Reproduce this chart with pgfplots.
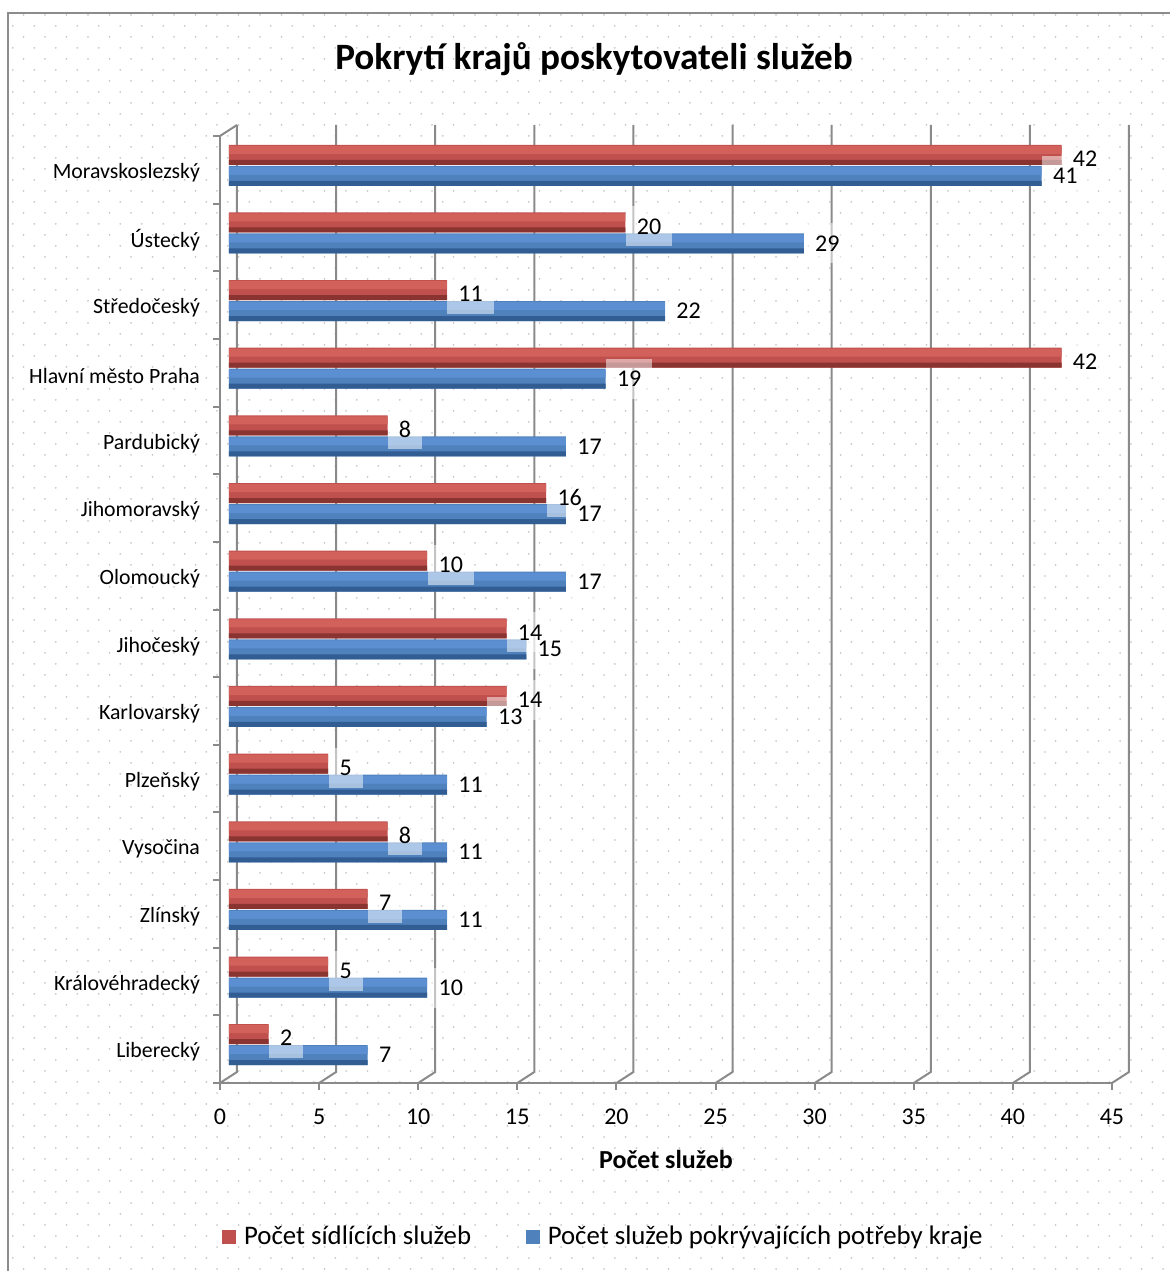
\documentclass[border=0pt]{standalone}
\usepackage{pgfplots}
\pgfplotsset{compat=1.18}
\usepackage{fontspec}
\setmainfont{Carlito}
\usetikzlibrary{patterns}
\definecolor{redc}{HTML}{C0504D}
\definecolor{redl}{HTML}{D2605B}
\definecolor{redd}{HTML}{8A3432}
\definecolor{bluec}{HTML}{4F81BD}
\definecolor{bluel}{HTML}{5B8FD1}
\definecolor{blued}{HTML}{325D92}
\definecolor{gridc}{HTML}{8A8A8A}
\definecolor{dotc}{HTML}{C8C8C8}
\definecolor{framec}{HTML}{8C8C8C}
\pgfdeclarepatternformonly{chartdots}{\pgfpoint{-1pt}{-1pt}}{\pgfpoint{12pt}{12pt}}{\pgfpoint{10.75pt}{11pt}}{%
  \pgfpathcircle{\pgfpoint{1pt}{1pt}}{0.5pt}%
  \pgfpathcircle{\pgfpoint{6.375pt}{6.5pt}}{0.5pt}%
  \pgfusepath{fill}}
\pgfplotstableread{
y  red blue
0  2   7
1  5   10
2  7   11
3  8   11
4  5   11
5  14  13
6  14  15
7  10  17
8  16  17
9  8   17
10 42  19
11 11  22
12 20  29
13 42  41
}\datatable
\tikzset{
  lblbox/.style={anchor=west, fill=white, fill opacity=0.5, text opacity=0,
    minimum height=20pt, inner xsep=5.5pt, inner ysep=0pt,
    font=\fontsize{12}{14}\selectfont},
  lbltext/.style={anchor=west, fill=none, text opacity=1,
    minimum height=20pt, inner xsep=5.5pt, inner ysep=0pt,
    font=\fontsize{12}{14}\selectfont, text=black},
}
\begin{document}
\begin{tikzpicture}
\useasboundingbox (-110pt,-94pt) rectangle (475pt,541.5pt);
\fill[pattern=chartdots, pattern color=dotc] (-106pt,-100pt) rectangle (480pt,535pt);
\draw[framec, line width=0.8pt] (-106pt,-100pt) rectangle (480pt,535pt);
\node[font=\bfseries\fontsize{18.6}{22}\selectfont] at (187pt,512pt) {Pokrytí krajů poskytovateli služeb};
\begin{axis}[
  at={(0pt,0pt)}, anchor=south west,
  scale only axis, width=446pt, height=473.5pt,
  xmin=0, xmax=45, ymin=-0.5, ymax=13.5,
  axis x line*=bottom, axis y line*=left,
  axis line style={gridc, line width=1pt},
  tick style={draw=none},
  xtick={0,5,...,45},
  ytick={0,...,13},
  yticklabels={Liberecký,Královéhradecký,Zlínský,Vysočina,Plzeňský,Karlovarský,Jihočeský,Olomoucký,Jihomoravský,Pardubický,Hlavní město Praha,Středočeský,Ústecký,Moravskoslezský},
  /pgf/number format/assume math mode=true,
  xticklabel style={font=\fontsize{12}{14}\selectfont, anchor=center, yshift=-17pt},
  yticklabel style={font=\fontsize{10.9}{13}\selectfont, anchor=east, xshift=-6.5pt, yshift=-1.5pt},
  xlabel={Počet služeb},
  xlabel style={font=\bfseries\fontsize{13}{15}\selectfont, at={(axis description cs:0.5,-0.0803)}, anchor=center},
  legend style={at={(0.431,-0.1626)}, anchor=center, draw=none, fill=none,
    legend columns=2, font=\fontsize{13.4}{15}\selectfont,
    /tikz/every even column/.append style={column sep=25.5pt},
    /tikz/every odd column/.append style={column sep=2pt}},
  clip=false,
]
\pgfplotsinvokeforeach{0,5,...,45}{
  \draw[gridc, line width=1pt] (axis cs:#1,-0.5) -- ([shift={(8.5pt,5.5pt)}]axis cs:#1,-0.5) -- ([shift={(8.5pt,5.5pt)}]axis cs:#1,13.5);
  \draw[gridc, line width=1pt] (axis cs:#1,-0.5) -- ([yshift=-3.5pt]axis cs:#1,-0.5);
}
\draw[gridc, line width=1pt] (axis cs:0,13.5) -- ([shift={(8.5pt,5.5pt)}]axis cs:0,13.5);
\pgfplotsinvokeforeach{-0.5,0.5,...,13.5}{
  \draw[gridc, line width=1pt] (axis cs:0,#1) -- ([xshift=-3.5pt]axis cs:0,#1);
}
% red series
\addplot[xbar, bar width=10pt, bar shift=7.5pt, draw=none, fill=redc, xshift=4.5pt,
  legend image code/.code={\fill[redc] (0pt,-3.4pt) rectangle (6.8pt,3.4pt);}]
  table[x=red, y=y] {\datatable};
\addlegendentry{Počet sídlících služeb}
\addplot[xbar, bar width=4pt, bar shift=10pt, draw=none, fill=redl, xshift=4.5pt, forget plot]
  table[x=red, y=y] {\datatable};
\addplot[xbar, bar width=2.5pt, bar shift=3.75pt, draw=none, fill=redd, xshift=4.5pt, forget plot]
  table[x=red, y=y] {\datatable};
% blue series
\addplot[xbar, bar width=10pt, bar shift=-3pt, draw=none, fill=bluec, xshift=4.5pt,
  legend image code/.code={\fill[bluec] (0pt,-3.4pt) rectangle (6.8pt,3.4pt);}]
  table[x=blue, y=y] {\datatable};
\addlegendentry{Počet služeb pokrývajících potřeby kraje}
\addplot[xbar, bar width=4pt, bar shift=-0.5pt, draw=none, fill=bluel, xshift=4.5pt, forget plot]
  table[x=blue, y=y] {\datatable};
\addplot[xbar, bar width=2.5pt, bar shift=-6.75pt, draw=none, fill=blued, xshift=4.5pt, forget plot]
  table[x=blue, y=y] {\datatable};
% value label boxes
\addplot[xbar, bar width=10pt, bar shift=7.5pt, draw=none, fill=none, xshift=4.5pt, forget plot,
  nodes near coords, nodes near coords style={lblbox, yshift=5.5pt}]
  table[x=red, y=y] {\datatable};
\addplot[xbar, bar width=10pt, bar shift=-3pt, draw=none, fill=none, xshift=4.5pt, forget plot,
  nodes near coords, nodes near coords style={lblbox, yshift=-3pt}]
  table[x=blue, y=y] {\datatable};
% value label texts
\addplot[xbar, bar width=10pt, bar shift=7.5pt, draw=none, fill=none, xshift=4.5pt, forget plot,
  nodes near coords, nodes near coords style={lbltext, yshift=5.5pt}]
  table[x=red, y=y] {\datatable};
\addplot[xbar, bar width=10pt, bar shift=-3pt, draw=none, fill=none, xshift=4.5pt, forget plot,
  nodes near coords, nodes near coords style={lbltext, yshift=-3pt}]
  table[x=blue, y=y] {\datatable};
\end{axis}
\end{tikzpicture}
\end{document}
